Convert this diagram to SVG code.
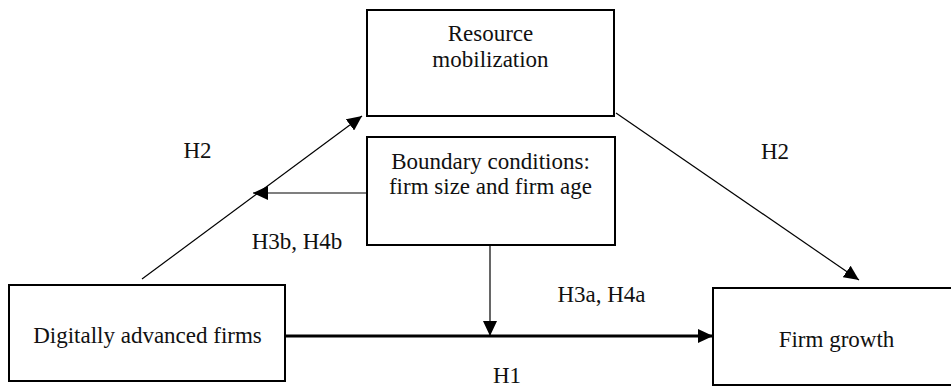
<svg xmlns="http://www.w3.org/2000/svg" width="951" height="387" viewBox="0 0 951 387">
<style>
.box{fill:#fff;stroke:#000;stroke-width:2}
.t{font-family:"Liberation Serif","Times New Roman",serif;font-size:23px;fill:#111;text-anchor:middle}
.c{stroke:#000;stroke-width:1.2;fill:none}
.thick{stroke:#000;stroke-width:3;fill:none}
</style>
<defs>
<marker id="ah" markerUnits="userSpaceOnUse" markerWidth="16" markerHeight="14" refX="15" refY="7" orient="auto">
<path d="M0,0 L15,7 L0,14 Z" fill="#000"/>
</marker>
</defs>
<rect width="951" height="387" fill="#fff"/>
<g id="connectors">
<line class="c" x1="142" y1="279" x2="362" y2="116" marker-end="url(#ah)"/>
<line class="c" x1="367" y1="193" x2="253" y2="193" marker-end="url(#ah)"/>
<line class="c" x1="616" y1="113" x2="859" y2="280" marker-end="url(#ah)"/>
<line class="c" x1="490" y1="245" x2="490" y2="336" marker-end="url(#ah)"/>
<line class="thick" x1="286" y1="336" x2="713" y2="336" marker-end="url(#ah)"/>
</g>
<g id="resource">
<rect class="box" x="367" y="10" width="247" height="106"/>
<text class="t" x="490.5" y="41">Resource</text>
<text class="t" x="490.5" y="67">mobilization</text>
</g>
<g id="boundary">
<rect class="box" x="367" y="137" width="248" height="108"/>
<text class="t" x="490.5" y="169">Boundary conditions:</text>
<text class="t" x="490.5" y="194">firm size and firm age</text>
</g>
<g id="digital">
<rect class="box" x="9" y="285" width="276" height="96"/>
<text class="t" x="147.5" y="343">Digitally advanced firms</text>
</g>
<g id="growth">
<rect class="box" x="713" y="288" width="250" height="97"/>
<text class="t" x="836.5" y="347">Firm growth</text>
</g>
<g id="labels">
<text class="t" x="197.5" y="158">H2</text>
<text class="t" x="775" y="159">H2</text>
<text class="t" x="297" y="249">H3b, H4b</text>
<text class="t" x="601.5" y="302">H3a, H4a</text>
<text class="t" x="507" y="383">H1</text>
</g>
</svg>
